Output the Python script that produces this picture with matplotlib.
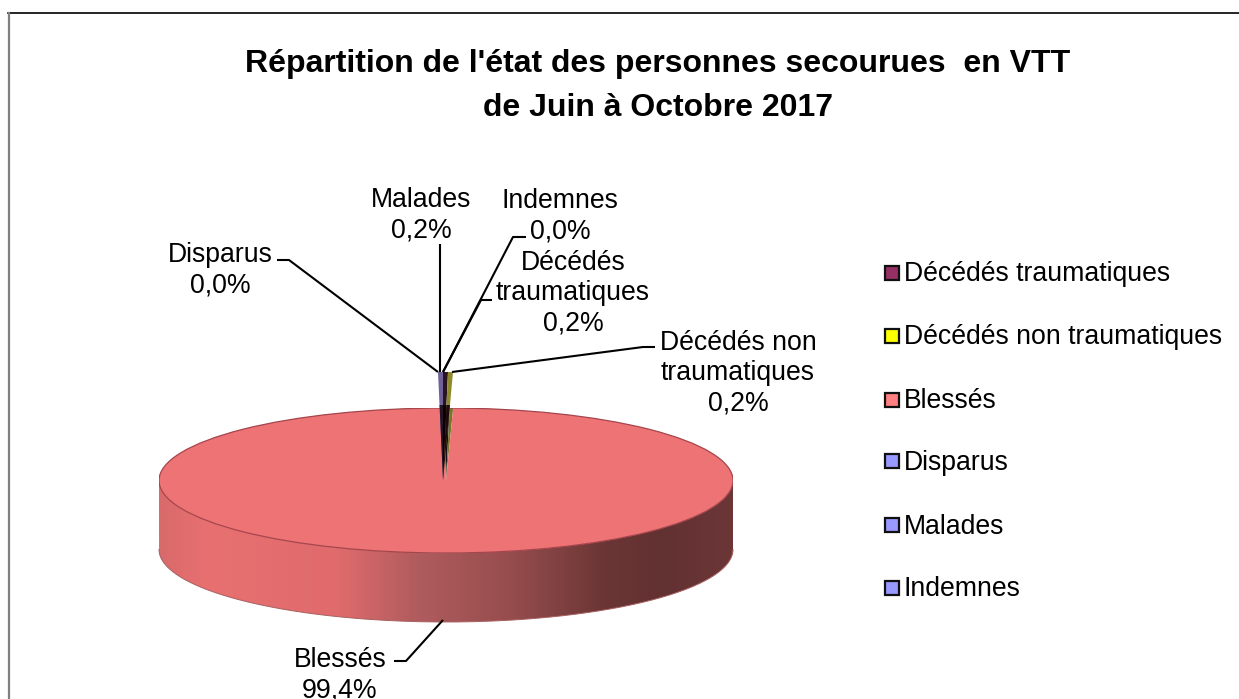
import numpy as np
import matplotlib
matplotlib.use("Agg")
import matplotlib.pyplot as plt
from matplotlib.colors import LinearSegmentedColormap
from matplotlib.patches import PathPatch, Rectangle
from matplotlib.path import Path

plt.rcParams["font.family"] = ["Liberation Sans", "DejaVu Sans"]

title = "Répartition de l'état des personnes secourues  en VTT\nde Juin à Octobre 2017"
categories = ["Décédés traumatiques", "Décédés non traumatiques", "Blessés",
              "Disparus", "Malades", "Indemnes"]
values = [0.2, 0.2, 99.4, 0.0, 0.2, 0.0]
value_labels = ["0,2%", "0,2%", "99,4%", "0,0%", "0,2%", "0,0%"]
label_names = ["Décédés\ntraumatiques", "Décédés non\ntraumatiques", "Blessés",
               "Disparus", "Malades", "Indemnes"]
legend_colors = ["#953064", "#ffff00", "#ff8080", "#9999ff", "#9999ff", "#9999ff"]
top_colors = ["#1c0c18", "#77762c", "#ee7375", "#8f86b8", "#6f6299", "#8f86b8"]

W, H = 1239, 699
fig = plt.figure(figsize=(W / 100, H / 100), dpi=100, facecolor="white")


def add_box(x0, y0, x1, y1):
    # pixel box, y measured from the top of the image
    ax = fig.add_axes([x0 / W, 1 - y1 / H, (x1 - x0) / W, (y1 - y0) / H])
    return ax


# full figure overlay in pixels
bg = add_box(0, 0, W, H)
bg.set_xlim(0, W)
bg.set_ylim(H, 0)
bg.axis("off")
bg.plot([8, W], [13, 13], color="black", lw=1.2)
bg.plot([8.5, 8.5], [13, H], color="#808080", lw=1.6)

# side of the pie
cx, cy, rx, ry, depth = 446, 480.5, 287, 72.5, 69
t = np.linspace(0, np.pi, 200)
xs = cx + rx * np.cos(t)
ys = cy + ry * np.sin(t)
side_x = np.r_[xs, xs[::-1]]
side_y = np.r_[ys, ys[::-1] + depth]
side = PathPatch(Path(np.c_[side_x, side_y]), transform=bg.transData,
                 facecolor="none", edgecolor="none")
bg.add_patch(side)
cmap = LinearSegmentedColormap.from_list("side", [
    (0.0, "#d96a6b"), (0.08, "#e87071"), (0.31, "#e06b6c"), (0.45, "#b05c5e"),
    (0.62, "#954c4d"), (0.78, "#6b3535"), (0.88, "#623131"), (1.0, "#6c3637")])
im = bg.imshow(np.linspace(0, 1, 300)[None, :], cmap=cmap, aspect="auto",
               extent=[cx - rx, cx + rx, cy + ry + depth, cy], zorder=1)
im.set_clip_path(side)
bg.plot(xs, ys + depth, color="#a86060", lw=0.7, zorder=2)
bg.set_xlim(0, W)
bg.set_ylim(H, 0)

# top of the pie
pie_ax = add_box(cx - rx, cy - ry, cx + rx, cy + ry)
pie_ax.patch.set_alpha(0)
wedges, _ = pie_ax.pie(values, colors=top_colors, startangle=90, counterclock=False,
                       radius=1, wedgeprops={"edgecolor": "none"})
pie_ax.set_aspect("auto")
pie_ax.set_xlim(-1, 1)
pie_ax.set_ylim(-1, 1)
pie_ax.add_patch(plt.Circle((0, 0), 1, fill=False, edgecolor="#a5454c", lw=0.9))

# the thin slices stand up above the rim, much taller than the big one
for (half_w, half_h, cols) in [(398, 108, ["#2a1420", "#8d8a2c", "none", "none", "#6f6299", "none"]),
                               (276, 75, ["#0a0204", "#1e0a0c", "none", "none", "#241424", "none"])]:
    sl_ax = add_box(443 - half_w, 480 - half_h, 443 + half_w, 480 + half_h)
    sl_ax.patch.set_alpha(0)
    sl_ax.pie(values, colors=cols, startangle=90, counterclock=False, radius=1,
              wedgeprops={"edgecolor": "none"})
    sl_ax.set_aspect("auto")
    sl_ax.set_xlim(-1, 1)
    sl_ax.set_ylim(-1, 1)

# text and leader lines on top
fg = add_box(0, 0, W, H)
fg.set_xlim(0, W)
fg.set_ylim(H, 0)
fg.axis("off")
fg.patch.set_alpha(0)

fg.text(658, 86, title, ha="center", va="center", fontsize=23, fontweight="bold",
        color="black", linespacing=1.57)

label_pos = [(573, 293.5), (738, 373), (340, 675), (220, 270), (421, 215), (560, 216.5)]
for name, val, (lx, ly) in zip(label_names, value_labels, label_pos):
    fg.text(lx, ly, name + "\n" + val, ha="center", va="center", fontsize=19.2,
            linespacing=1.22, color="black")

leaders = [
    ([492, 481, 443], [300, 300, 372]),
    ([655, 643, 452], [347, 347, 372]),
    ([394, 406, 443], [661, 661, 620]),
    ([277, 289, 438], [260, 260, 372]),
    ([440, 440], [244, 372]),
    ([526, 513, 443], [237, 237, 372]),
]
for lxs, lys in leaders:
    fg.plot(lxs, lys, color="black", lw=1.5, solid_capstyle="butt")

legend_y = [272.5, 335.5, 399.5, 461, 525, 588]
for name, col, y in zip(categories, legend_colors, legend_y):
    fg.add_patch(Rectangle((884.5, y - 7), 14, 14, facecolor=col, edgecolor="#101010", lw=1.6))
    fg.text(904, y + 8.5, name, ha="left", va="baseline", fontsize=19.2, color="black")

fig.savefig("out.png", dpi=100)
